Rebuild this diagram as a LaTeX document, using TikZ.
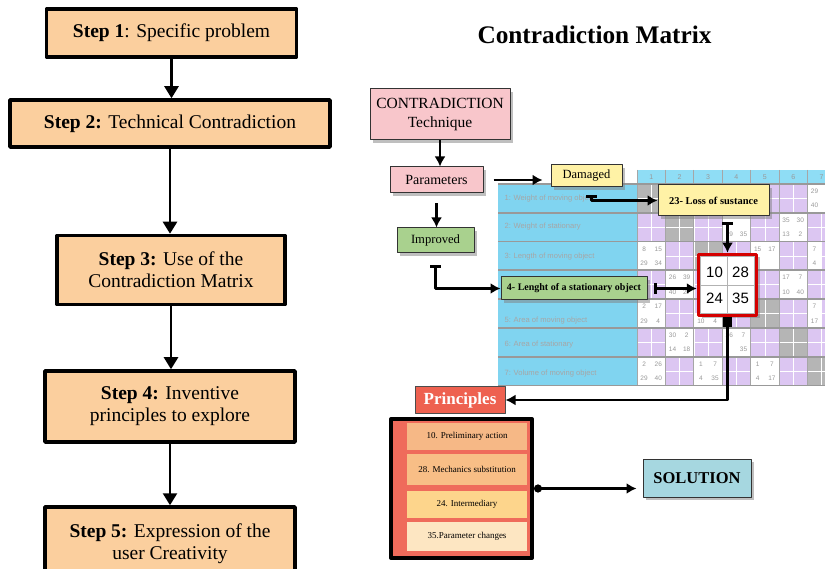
\documentclass[tikz,border=0pt]{standalone}
\usepackage{fontspec}
\setmainfont{Liberation Serif}
\newfontfamily\arialfont{Liberation Sans}
\usetikzlibrary{arrows.meta,positioning,calc,shadows}
\definecolor{stepfill}{HTML}{FBCF9E}
\definecolor{pinkfill}{HTML}{F8C6CB}
\definecolor{greenfill}{HTML}{A9D18E}
\definecolor{yellowfill}{HTML}{FFF2A6}
\definecolor{redframe}{HTML}{D40000}
\definecolor{princfill}{HTML}{EE6150}
\definecolor{listfill}{HTML}{EF6B5B}
\definecolor{itemA}{HTML}{F6B886}
\definecolor{itemB}{HTML}{F8BE86}
\definecolor{itemC}{HTML}{FDD58C}
\definecolor{itemD}{HTML}{FDE6C2}
\definecolor{solfill}{HTML}{A6D7E0}
\definecolor{skyblue}{HTML}{80D4F0}
\definecolor{hdrblue}{HTML}{8FDDF5}
\definecolor{lilac}{HTML}{DCC6F2}
\definecolor{diaggrey}{HTML}{B5B5B5}

\begin{document}
\begin{tikzpicture}[x=1pt,y=-1pt, line join=round,
  stepbox/.style={draw,line width=3.5pt,fill=stepfill,align=center,inner sep=0pt,font=\fontsize{19.5}{22}\selectfont},
  stepline/.style={line width=2.5pt,-{Triangle[width=14pt,length=12pt]}},
  tag/.style={draw=black!80,line width=1pt,align=center,inner sep=0pt,drop shadow={shadow xshift=3pt,shadow yshift=-3pt,opacity=.5}},
  link/.style={line width=2.8pt,-{Latex[length=10pt,width=11pt]}},
  barlink/.style={line width=2.8pt,{Bar[width=11pt,line width=3pt]}-{Latex[length=10pt,width=11pt]}},
  numcell/.style={fill=white,minimum width=14.2pt,minimum height=14.4pt,inner sep=0pt,text=black!40,font=\arialfont\fontsize{6.5}{7}\selectfont},
  item/.style={minimum width=120pt,inner sep=0pt,font=\fontsize{9}{10}\selectfont}]
\useasboundingbox (0,0) rectangle (825,569);
\clip (0,0) rectangle (825,569);
\fill[white] (0,0) rectangle (825,569);

\node[stepbox,minimum width=250pt,minimum height=48pt] (s1) at (171.5,33) {\textbf{Step 1}: Specific problem};
\node[stepbox,minimum width=320pt,minimum height=47pt] (s2) at (170,123.5) {\textbf{Step 2:} Technical Contradiction};
\node[stepbox,minimum width=228pt,minimum height=69pt] (s3) at (171,270) {\textbf{Step 3:} Use of the\\Contradiction Matrix};
\node[stepbox,minimum width=250pt,minimum height=71pt] (s4) at (170,406.5) {\textbf{Step 4:} Inventive\\principles to explore};
\node[stepbox,minimum width=250pt,minimum height=73pt] (s5) at (170,543.5) {\textbf{Step 5:} Expression of the\\user Creativity};
\draw[stepline] (s1.south) -- (s1.south |- s2.north);
\draw[stepline] (s2.south) -- (s2.south |- s3.north);
\draw[stepline] (s3.south) -- (s3.south |- s4.north);
\draw[stepline] (s4.south) -- (s4.south |- s5.north);

\node[font=\bfseries\fontsize{25.3}{27}\selectfont] (title) at (594.5,35) {Contradiction Matrix};

\fill[skyblue] (498,184) rectangle (637,386);
\fill[hdrblue] (637,170) rectangle (836,184);
\fill[lilac] (637,184) rectangle (836,386);
\foreach \k in {1,...,7}
  \fill[diaggrey] ({637+(\k-1)*28.4},{184+(\k-1)*28.8}) rectangle ++(28.4,28.8);
\foreach \r/\c/\v in {1/13/29,1/14/{},2/13/40,2/14/{},
  3/7/{},3/8/{},4/7/19,4/8/35,3/11/35,3/12/30,4/11/13,4/12/2,
  5/1/8,5/2/15,6/1/29,6/2/34,5/9/15,5/10/17,6/9/{},6/10/{},5/13/7,6/13/4,
  7/3/26,7/4/39,8/3/40,8/4/27,7/11/17,7/12/7,8/11/10,8/12/40,
  9/1/2,9/2/17,10/1/29,10/2/4,10/5/10,10/6/4,9/13/7,10/13/17,
  11/3/30,11/4/2,12/3/14,12/4/18,11/7/26,11/8/7,12/7/{},12/8/35,
  13/1/2,13/2/26,14/1/29,14/2/40,13/5/1,13/6/7,14/5/4,14/6/35,13/9/1,13/10/7,14/9/4,14/10/17}
  \node[numcell] at ({637+(\c-0.5)*14.2},{184+(\r-0.5)*14.4}) {\v};
\foreach \i in {0,...,14}
  \draw[white,line width=.6pt] ({637+\i*14.2},184) -- ++(0,202);
\foreach \i in {0,...,14}
  \draw[white,line width=.6pt] (637,{184+\i*14.4}) -- ++(199,0);
\foreach \i in {0,...,7}
  \draw[black!35,line width=.8pt] ({637+\i*28.4},170) -- ++(0,216);
\foreach \i in {0,...,7}
  \draw[black!40,line width=1.8pt] (498,{184+\i*28.8}) -- (836,{184+\i*28.8});
\foreach \k in {1,...,7}
  \node[text=black!40,font=\arialfont\fontsize{7}{7}\selectfont] at ({637+(\k-0.5)*28.4},177) {\k};
\foreach \y/\t in {199/{1: Weight of moving object},227/{2: Weight of stationary},257/{3: Length of moving object},
  321/{5: Area of moving object},345/{6: Area of stationary},374/{7: Volume of moving object}}
  \node[anchor=west,text=black!35,font=\arialfont\fontsize{7.6}{8}\selectfont] at (501,\y) {\t};

\node[tag,fill=pinkfill,minimum width=140pt,minimum height=51pt,font=\fontsize{15.5}{19}\selectfont] (contra) at (440,114.5) {CONTRADICTION\\Technique};
\node[tag,fill=pinkfill,minimum width=93pt,minimum height=26pt,font=\fontsize{14}{14}\selectfont] (params) at (436.5,180) {Parameters};
\node[tag,fill=greenfill,minimum width=77pt,minimum height=25pt,font=\fontsize{12.6}{13}\selectfont] (improved) at (435.5,240.5) {Improved};
\node[tag,fill=yellowfill,minimum width=71pt,minimum height=22pt,font=\fontsize{12.5}{13}\selectfont] (damaged) at (586.5,176) {Damaged};
\node[tag,fill=yellowfill,minimum width=111pt,minimum height=31pt,font=\bfseries\fontsize{10.5}{11}\selectfont] (loss) at (713.5,200.5) {23- Loss of sustance};
\node[tag,fill=greenfill,minimum width=146pt,minimum height=23pt,font=\bfseries\fontsize{10}{11}\selectfont] (length) at (574,288.5) {4- Lenght of a stationary object};
\node[draw=redframe,line width=3.5pt,fill=white,minimum width=58pt,minimum height=61pt,drop shadow={shadow xshift=3pt,shadow yshift=-3pt,opacity=.5}] (cells) at (727.5,285) {};
\draw[black!30,line width=.8pt] ($(cells.north west)+(4,4)$) rectangle ($(cells.south east)+(-4,-4)$);
\draw[black!30,line width=.8pt] ($(cells.north)+(0,4)$) -- ($(cells.south)+(0,-4)$);
\draw[black!30,line width=.8pt] ($(cells.west)+(4,0)$) -- ($(cells.east)+(-4,0)$);
\node[font=\arialfont\fontsize{15}{15}\selectfont] (n10) at ($(cells.center)+(-13,-13)$) {10};
\node[font=\arialfont\fontsize{15}{15}\selectfont] (n28) at ($(cells.center)+(13,-13)$) {28};
\node[font=\arialfont\fontsize{15}{15}\selectfont] (n24) at ($(cells.center)+(-13,13)$) {24};
\node[font=\arialfont\fontsize{15}{15}\selectfont] (n35) at ($(cells.center)+(13,13)$) {35};

\node[draw=black!70,line width=1pt,fill=princfill,text=white,minimum width=90pt,minimum height=26pt,inner sep=0pt,font=\bfseries\fontsize{17}{17}\selectfont] (principles) at (460,400) {Principles};
\node[draw,line width=4pt,fill=listfill,minimum width=141pt,minimum height=139pt] (list) at (461.5,488.5) {};
\node[item,fill=itemA,minimum height=27pt] (p10) at (467,436.5) {10. Preliminary action};
\node[item,fill=itemB,minimum height=31pt] (p28) at (467,469.5) {28. Mechanics substitution};
\node[item,fill=itemC,minimum height=27pt] (p24) at (467,504.5) {24. Intermediary};
\node[item,fill=itemD,minimum height=29pt] (p35) at (467,536.5) {35.Parameter changes};
\node[tag,fill=solfill,minimum width=108pt,minimum height=38pt,font=\bfseries\fontsize{16.5}{17}\selectfont] (solution) at (697,478) {SOLUTION};

\draw[link] (contra.south) -- (contra.south |- params.north);
\draw[link,shorten <=10pt] (params.south) -- (params.south |- improved.north);
\draw[link,shorten <=10pt,shorten >=8pt] (params.east) -- (params.east -| damaged.west);
\coordinate (dbar) at ($(damaged.south)+(5,8)$);
\draw[barlink] (dbar) |- (loss.west);
\coordinate (lbar) at ($(cells.north |- loss.south)+(0,6)$);
\draw[barlink] (lbar) -- (cells.north);
\coordinate (ibar) at ($(improved.south)+(0,12)$);
\draw[barlink] (ibar) |- (length.west);
\coordinate (sbar) at ($(length.east)+(6,0)$);
\draw[barlink] (sbar) -- (sbar -| cells.west);
\draw[line width=2.8pt,{Square[length=10pt,width=9pt]}-{Latex[length=10pt,width=11pt]}] (cells.south) |- (principles.east);
\draw[line width=2.8pt,{Circle[length=8pt]}-{Latex[length=10pt,width=11pt]},shorten >=6pt] (list.east) -- (list.east -| solution.west);
\end{tikzpicture}
\end{document}
